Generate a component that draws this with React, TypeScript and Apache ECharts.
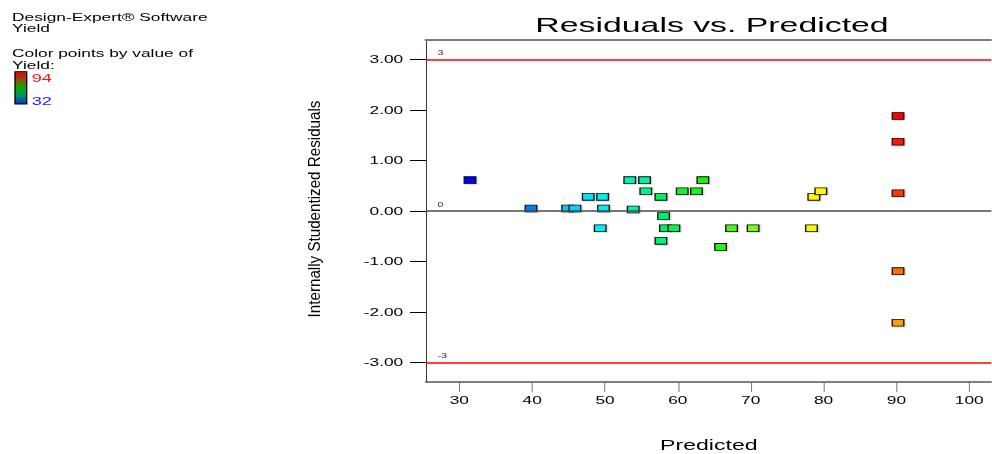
import React, { useEffect, useRef } from "react";
import * as echarts from "echarts";

// ---- data ----
const predicted = [31.47, 39.84, 44.87, 45.87, 47.7, 49.67, 49.8, 49.34, 53.4, 55.43, 55.6, 53.87, 57.67, 58.04, 58.3, 59.45, 57.67, 60.6, 62.56, 63.43, 67.37, 65.86, 70.33, 78.34, 78.66, 79.62, 90.22, 90.22, 90.22, 90.22, 90.22];
const residuals = [0.61, 0.05, 0.05, 0.05, 0.28, 0.28, 0.05, -0.34, 0.61, 0.61, 0.39, 0.03, 0.28, -0.1, -0.34, -0.34, -0.59, 0.39, 0.39, 0.61, -0.34, -0.71, -0.34, -0.34, 0.28, 0.39, 1.88, 1.37, 0.35, -1.19, -2.21];
const yieldValues = [32, 40, 45, 46, 48, 49, 49, 49, 54, 55, 56, 54, 58, 58, 58, 59, 57, 61, 62, 63, 67, 64, 70, 80, 81, 82, 94, 93, 91, 88, 86];
const xTicks = [30, 40, 50, 60, 70, 80, 90, 100];
const yTicks = [-3, -2, -1, 0, 1, 2, 3];
const limitLines = [3, 0, -3];
const limitLabels = ["3", "0", "-3"];
const yieldRange = [32, 94];
const rampColors = ["#0000ff", "#0060f0", "#00c8f8", "#00f8f8", "#00f078", "#20f010", "#68f820", "#c8f800", "#ffff00", "#ff7000", "#ff0000"];

// horizontal stretch of the original screenshot
const S = 1.65;
const W = 992 / S;
const FONT = "'Liberation Sans', Arial, Helvetica, sans-serif";

export default function App() {
  const ref = useRef<HTMLDivElement>(null);
  useEffect(() => {
    if (!ref.current) return;
    const chart = echarts.init(ref.current, null, { renderer: "svg" });
    const points = predicted.map((p, i) => [p, residuals[i], yieldValues[i]]);
    const option: any = {
      animation: false,
      backgroundColor: "#fff",
      textStyle: { fontFamily: FONT },
      grid: { left: 426 / S, right: 0, top: 40, bottom: 72, outerBoundsMode: "none" },
      xAxis: [
        {
          type: "value",
          min: 25.43,
          max: 103.07,
          name: "Predicted",
          nameLocation: "middle",
          nameGap: 56,
          nameTextStyle: { fontSize: 14, color: "#000", fontFamily: FONT },
          axisLine: { show: true, onZero: false, lineStyle: { color: "#555", width: 1.6 } },
          axisTick: { show: true, inside: false, length: 10, customValues: xTicks, lineStyle: { color: "#555", width: 1 / S } },
          axisLabel: { customValues: xTicks, margin: 13, fontSize: 10.5, color: "#000", fontFamily: FONT },
          splitLine: { show: false },
        },
        {
          type: "value",
          position: "top",
          min: 25.43,
          max: 103.07,
          axisLine: { show: true, onZero: false, lineStyle: { color: "#7a7a7a", width: 2 } },
          axisTick: { show: false },
          axisLabel: { show: false },
          splitLine: { show: false },
        },
      ],
      yAxis: {
        type: "value",
        min: -3.382,
        max: 3.382,
        axisLine: { show: true, onZero: false, lineStyle: { color: "#000", width: 1 / S } },
        axisTick: { show: true, inside: false, length: 16 / S, customValues: yTicks, lineStyle: { color: "#000", width: 1 } },
        axisLabel: {
          customValues: yTicks,
          formatter: (v: number) => v.toFixed(2),
          margin: 13.8,
          fontSize: 10.5,
          color: "#000",
          fontFamily: FONT,
        },
        splitLine: { show: false },
      },
      visualMap: {
        show: false,
        type: "continuous",
        seriesIndex: 1,
        dimension: 2,
        min: yieldRange[0],
        max: yieldRange[1],
        inRange: { color: rampColors },
      },
      series: [
        {
          type: "scatter",
          data: [],
          silent: true,
          markLine: {
            silent: true,
            symbol: ["none", "none"],
            animation: false,
            label: {
              show: true,
              position: "insideStartTop",
              fontSize: 6.5,
              color: "#333",
              fontFamily: FONT,
              distance: [7, 3],
            },
            data: limitLines.map((v, i) => ({
              yAxis: v,
              label: { formatter: limitLabels[i] },
              lineStyle: v === 0 ? { color: "#4a4a4a", width: 1.5, type: "solid" } : { color: "#ff0000", width: 1.5, type: "solid" },
            })),
          },
        },
        {
          type: "scatter",
          data: points,
          symbol: "rect",
          symbolSize: [7, 6.8],
          itemStyle: {
            opacity: 1,
            borderColor: "#111",
            borderWidth: 0.8,
            shadowColor: "rgba(0,0,0,0.22)",
            shadowBlur: 1,
            shadowOffsetX: 0.6,
            shadowOffsetY: 0.6,
          },
        },
      ],
      graphic: [
        { type: "text", x: 7.3, y: 17.8, style: { text: "Design-Expert® Software", fill: "#000", font: `10.5px ${FONT}`, verticalAlign: "middle" } },
        { type: "text", x: 7.3, y: 28.8, style: { text: "Yield", fill: "#000", font: `10.5px ${FONT}`, verticalAlign: "middle" } },
        { type: "text", x: 7.3, y: 53.7, style: { text: "Color points by value of", fill: "#000", font: `10.5px ${FONT}`, verticalAlign: "middle" } },
        { type: "text", x: 7.3, y: 65.7, style: { text: "Yield:", fill: "#000", font: `10.5px ${FONT}`, verticalAlign: "middle" } },
        {
          type: "rect",
          shape: { x: 15 / S, y: 71.7, width: 11.7 / S, height: 32.3 },
          style: {
            fill: new echarts.graphic.LinearGradient(0, 0, 0, 1, [
              { offset: 0, color: "#e00000" },
              { offset: 0.3, color: "#806010" },
              { offset: 0.5, color: "#00b000" },
              { offset: 0.75, color: "#009070" },
              { offset: 1, color: "#1030c0" },
            ]),
            stroke: "#000",
            lineWidth: 0.8,
          },
        },
        { type: "text", x: 31.7 / S, y: 77.8, style: { text: String(yieldRange[1]), fill: "#ff1010", font: `11px ${FONT}`, verticalAlign: "middle" } },
        { type: "text", x: 31.7 / S, y: 100.5, style: { text: String(yieldRange[0]), fill: "#2020ff", font: `11px ${FONT}`, verticalAlign: "middle" } },
        { type: "text", x: 712 / S, y: 25, style: { text: "Residuals vs. Predicted", fill: "#000", font: `20.5px ${FONT}`, align: "center", verticalAlign: "middle" } },
        {
          type: "text",
          x: 314 / S,
          y: 209,
          rotation: Math.PI / 2,
          scaleX: 1.6,
          style: { text: "Internally Studentized Residuals", fill: "#000", font: `9.5px ${FONT}`, align: "center", verticalAlign: "middle" },
        },
      ],
    };
    chart.setOption(option);
    return () => chart.dispose();
  }, []);

  return (
    <div style={{ position: "absolute", left: 0, top: 0, width: 992, height: 454, overflow: "hidden", background: "#fff" }}>
      <div
        ref={ref}
        style={{ width: W, height: 454, transform: `scaleX(${S})`, transformOrigin: "0 0" }}
      />
    </div>
  );
}
